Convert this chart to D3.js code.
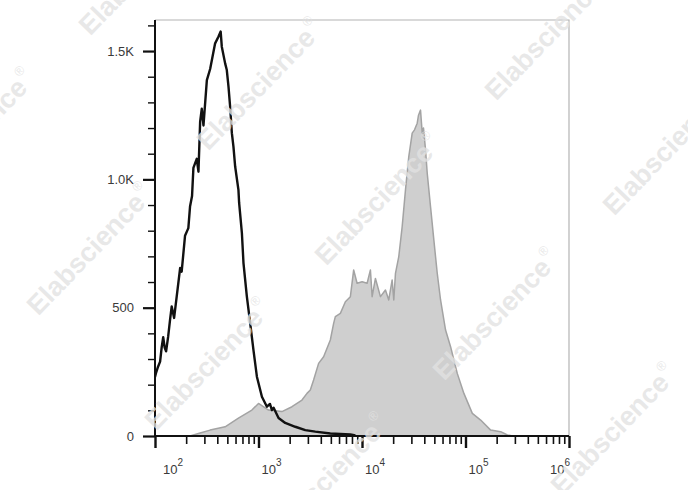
<!DOCTYPE html>
<html>
<head>
<meta charset="utf-8">
<script src="https://cdn.jsdelivr.net/npm/d3@7"></script>
<style>
  html, body { margin: 0; padding: 0; background: #fff; }
  svg { display: block; }
</style>
</head>
<body>
<svg id="chart" width="688" height="490"></svg>
<script>
// ---------- data ----------
// Black open histogram: [fluorescence intensity, count]
const controlSeries = [
  [100, 230], [102, 244], [107, 270], [112, 290], [116, 345], [120, 385], [124, 345],
  [128, 330], [134, 387], [140, 455], [145, 505], [153, 460], [162, 543], [175, 655],
  [181, 640], [195, 780], [210, 810], [218, 894], [228, 935], [235, 1045], [253, 1080],
  [263, 1030], [273, 1225], [283, 1275], [294, 1210], [317, 1387], [341, 1430],
  [381, 1530], [410, 1556], [431, 1576], [442, 1517], [476, 1452], [494, 1426],
  [513, 1361], [532, 1283], [553, 1180], [573, 1127], [595, 1050], [640, 959],
  [650, 908], [691, 791], [716, 674], [772, 543], [831, 440], [894, 335], [965, 231],
  [1079, 153], [1206, 114], [1290, 125], [1348, 101], [1400, 110], [1562, 70],
  [1813, 51], [2266, 36], [2832, 23], [3539, 17], [4944, 10], [7720, 6], [8630, 2]
];
// Grey filled histogram: [fluorescence intensity, count]
const stainedSeries = [
  [218, 0], [273, 12], [341, 23], [476, 36], [640, 70], [863, 101], [1000, 127],
  [1250, 101], [1684, 95], [2106, 114], [2631, 140], [2941, 166], [3167, 179],
  [3407, 218], [3809, 283], [4258, 309], [4944, 374], [5321, 439], [5527, 465],
  [6179, 478], [6908, 523], [7720, 543], [8309, 647], [8965, 595], [10023, 601],
  [11205, 595], [12061, 647], [12527, 543], [13482, 614], [15073, 543], [16851, 569],
  [18136, 530], [19562, 608], [20274, 530], [21057, 634], [22664, 699], [24444, 816],
  [26310, 959], [28318, 1089], [30549, 1180], [32165, 1193], [34153, 1219],
  [35160, 1250], [36763, 1270], [38187, 1180], [39280, 1200], [41095, 1115],
  [42686, 1024], [45933, 894], [49443, 764], [53334, 634], [57418, 530], [64183, 413],
  [71744, 348], [83271, 244], [96490, 166], [116390, 88], [140030, 62], [174980, 23],
  [218700, 17], [253900, 4], [285800, 0]
];
const xDomain = [100, 1000000];
const yDomain = [0, 1621];
const yMajorTicks = [0, 500, 1000, 1500];
const yTickLabels = ["0", "500", "1.0K", "1.5K"];
const yMinorTicks = [100, 200, 300, 400, 600, 700, 800, 900, 1100, 1200, 1300, 1400, 1600];
const xMajorExponents = [2, 3, 4, 5, 6];
const watermarkText = "Elabscience";

// ---------- layout ----------
const svg = d3.select("#chart");
const pLeft = 155, pRight = 569, pTop = 20, pBottom = 436;

const x = d3.scaleLog().domain(xDomain).range([pLeft, pRight]);
const y = d3.scaleLinear().domain(yDomain).range([pBottom, pTop]);

svg.append("defs").append("clipPath").attr("id", "plotClip")
  .append("rect").attr("x", pLeft).attr("y", pTop - 2)
  .attr("width", pRight - pLeft).attr("height", pBottom - pTop + 2);

// frame (top & right)
svg.append("path")
  .attr("d", `M${pLeft},${pTop}H${pRight}V${pBottom}`)
  .attr("fill", "none").attr("stroke", "#b4b4b4").attr("stroke-width", 1.2);

const plot = svg.append("g").attr("clip-path", "url(#plotClip)");

// grey filled histogram
const area = d3.area()
  .x(d => x(d[0])).y0(y(0)).y1(d => y(d[1]));
plot.append("path").datum(stainedSeries)
  .attr("d", area)
  .attr("fill", "#cfcfcf")
  .attr("stroke", "#a3a3a3").attr("stroke-width", 1.5).attr("stroke-linejoin", "round");

// black line histogram
const line = d3.line().x(d => x(d[0])).y(d => y(d[1]));
plot.append("path").datum(controlSeries)
  .attr("d", line)
  .attr("fill", "none").attr("stroke", "#111").attr("stroke-width", 2.4)
  .attr("stroke-linejoin", "round");

// ---------- axes ----------
const fontFam = "'Liberation Sans', Arial, sans-serif";

// y axis minor ticks
const yMinor = svg.append("g").attr("transform", `translate(${pLeft},0)`)
  .call(d3.axisLeft(y).tickValues(yMinorTicks).tickSize(7).tickFormat(""));
yMinor.select(".domain").remove();
yMinor.selectAll("line").attr("stroke", "#111").attr("stroke-width", 1.4);

// y axis major
const yAxis = svg.append("g").attr("transform", `translate(${pLeft},0)`)
  .call(d3.axisLeft(y).tickValues(yMajorTicks).tickSize(12).tickPadding(9)
    .tickFormat((d, i) => yTickLabels[i]));
yAxis.select(".domain").attr("stroke", "#111").attr("stroke-width", 2)
  .attr("d", `M0,${pTop}V${pBottom}`);
yAxis.selectAll("line").attr("stroke", "#111").attr("stroke-width", 2.2);
yAxis.selectAll("text").attr("font-family", fontFam).attr("font-size", 13)
  .attr("fill", "#3a3a3a");

// x axis minor ticks
const xMinorVals = [];
for (let e = 2; e < 6; e++) for (let m = 2; m <= 9; m++) xMinorVals.push(m * Math.pow(10, e));
const xMinor = svg.append("g").attr("transform", `translate(0,${pBottom})`)
  .call(d3.axisBottom(x).tickValues(xMinorVals).tickSize(8).tickFormat(""));
xMinor.select(".domain").remove();
xMinor.selectAll("line").attr("stroke", "#111").attr("stroke-width", 1.6);

// x axis major
const xMajorVals = xMajorExponents.map(e => Math.pow(10, e));
const xAxis = svg.append("g").attr("transform", `translate(0,${pBottom})`)
  .call(d3.axisBottom(x).tickValues(xMajorVals).tickSize(12).tickFormat(""));
xAxis.select(".domain").attr("stroke", "#111").attr("stroke-width", 2.2)
  .attr("d", `M${pLeft},0H${pRight}`);
xAxis.selectAll("line").attr("stroke", "#111").attr("stroke-width", 2.4);

// x tick labels with superscripts
xMajorExponents.forEach((e, i) => {
  let tx = x(Math.pow(10, e)) + 3;
  if (i === 0) tx = Math.max(tx, 163);
  const t = svg.append("text")
    .attr("font-family", fontFam).attr("font-size", 13).attr("fill", "#3a3a3a")
    .attr("y", pBottom + 38);
  t.append("tspan").text("10");
  t.append("tspan").attr("font-size", 10).attr("dy", -8).text(String(e));
  if (i === xMajorExponents.length - 1) {
    const w = t.node().getComputedTextLength();
    tx = Math.min(tx, pRight + 1 - w);
  }
  t.attr("x", tx);
});

// ---------- watermarks ----------
const wm = svg.append("g").attr("pointer-events", "none");
const A = [118, 115], B = [288, -50], base = [260, 85];
for (let i = -3; i <= 4; i++) {
  for (let j = -2; j <= 3; j++) {
    const cx = base[0] + i * A[0] + j * B[0];
    const cy = base[1] + i * A[1] + j * B[1];
    if (cx < -60 || cx > 760 || cy < -45 || cy > 520) continue;
    const t = wm.append("text")
      .attr("transform", `translate(${cx},${cy}) rotate(-46)`)
      .attr("text-anchor", "middle").attr("dominant-baseline", "central")
      .attr("font-family", fontFam).attr("font-size", 27).attr("font-weight", "bold")
      .attr("fill", "#e2e2e2").attr("fill-opacity", 0.8);
    t.append("tspan").text(watermarkText);
    t.append("tspan").attr("font-size", 13).attr("font-weight", "normal")
      .attr("dx", 2).attr("dy", -11).text("®");
  }
}
</script>
</body>
</html>
